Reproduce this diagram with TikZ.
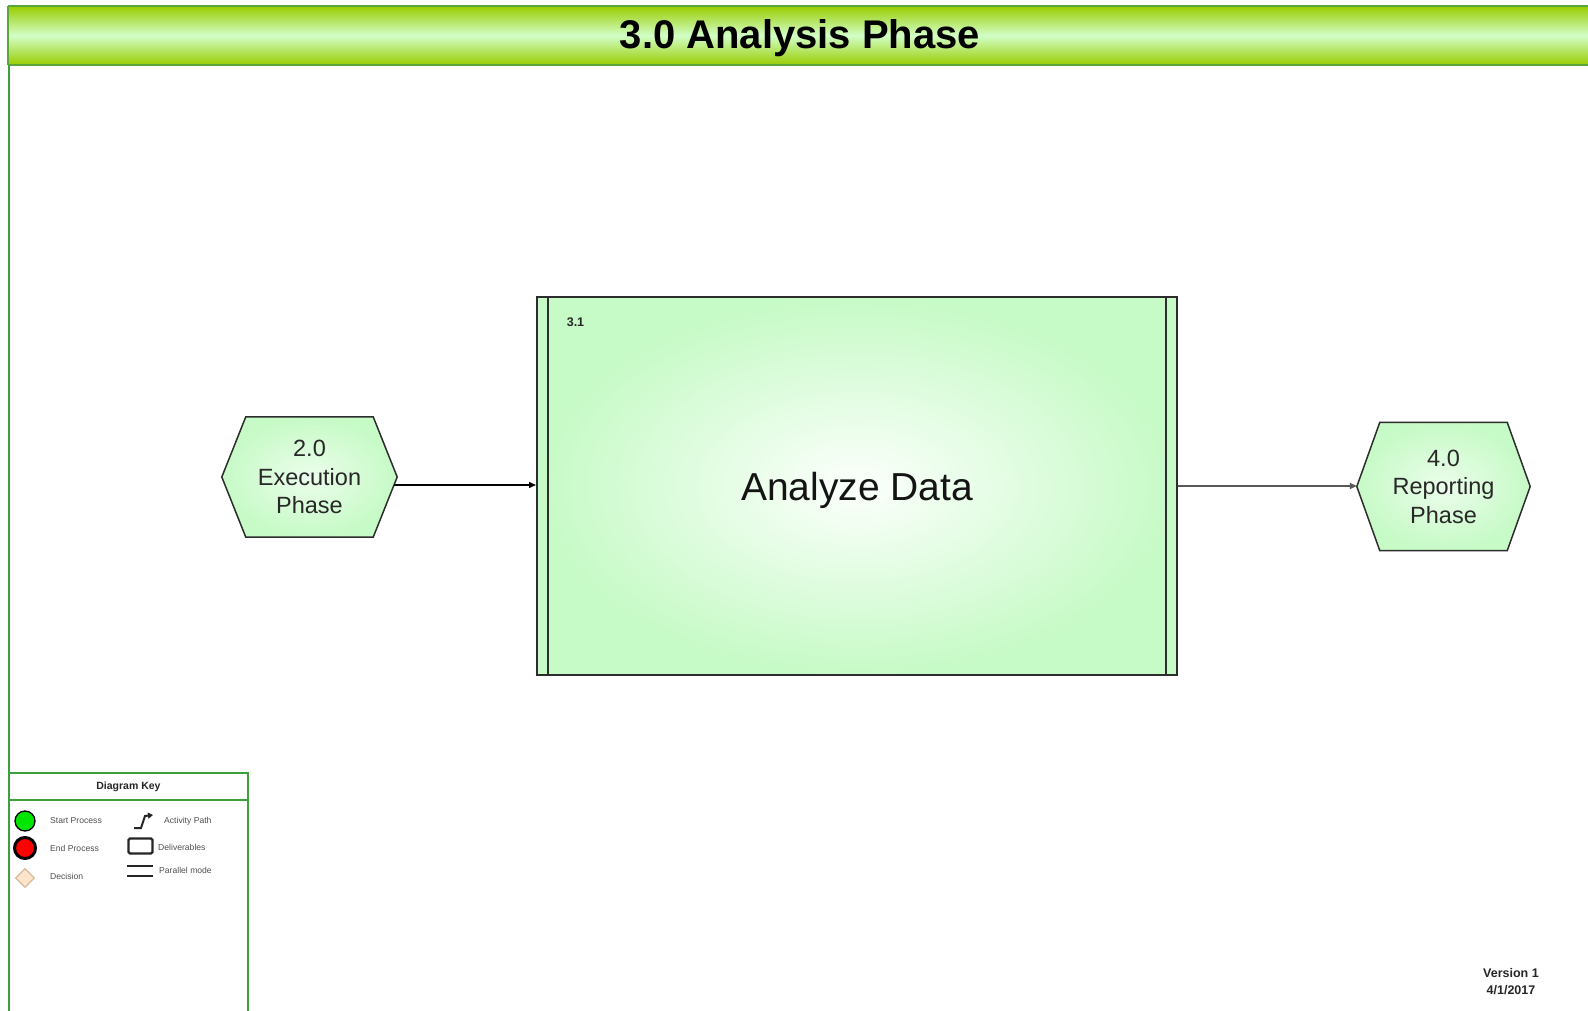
\documentclass[tikz,border=0pt]{standalone}
\usepackage{fontspec}
\setmainfont{Liberation Sans}
\usetikzlibrary{arrows.meta,backgrounds,calc,shapes.geometric}
\definecolor{hdrgreen}{RGB}{153,204,0}
\definecolor{hdrlight}{RGB}{210,255,200}
\definecolor{hdredge}{RGB}{90,165,60}
\definecolor{framegreen}{RGB}{60,160,60}
\definecolor{procgreen}{RGB}{198,250,198}
\definecolor{procwhite}{RGB}{252,255,252}
\definecolor{edgegrey}{RGB}{45,45,45}
\definecolor{hextext}{RGB}{40,40,40}
\definecolor{keytext}{RGB}{80,80,80}
\definecolor{decfill}{RGB}{255,228,204}
\definecolor{decedge}{RGB}{215,185,155}
\definecolor{startgreen}{RGB}{0,230,0}
\tikzset{
  hexnode/.style={minimum width=175pt, minimum height=120pt, inner sep=0pt, align=center,
    text=hextext, font=\fontsize{23.5}{28.5}\selectfont},
  hexshape/.style={draw=edgegrey, line width=1.5pt, inner color=procwhite!70!procgreen, outer color=procgreen},
  procbox/.style={draw=edgegrey, line width=2pt, minimum width=640pt, minimum height=378pt,
    inner color=procwhite, outer color=procgreen, shade, text=black!92, text depth=0pt,
    font=\fontsize{39}{46}\selectfont},
  arr/.style={draw=black, line width=1.3pt, -{Triangle[length=7pt,width=6pt]}},
  arrgrey/.style={draw=black!65, line width=2.6pt, -{Triangle[length=7pt,width=6pt]}},
  keylabel/.style={anchor=west, inner sep=0pt, text=keytext, font=\fontsize{8.6}{10}\selectfont},
  keyhead/.style={inner sep=0pt, text=black!85, font=\bfseries\fontsize{10.5}{12}\selectfont},
  framed/.style={draw=framegreen, line width=2pt},
}
\begin{document}
\begin{tikzpicture}[x=1pt,y=-1pt]
\useasboundingbox (0,0) rectangle (1588,1011);
\begin{scope}[on background layer]
\fill[white] (0,0) rectangle (1588,1011);
\end{scope}

% header band
\shade[top color=hdrgreen, bottom color=hdrgreen, middle color=hdrlight] (8,6) rectangle (1600,65);
\draw[hdredge, line width=1.6pt] (8,6) -- (1600,6);
\draw[hdredge, line width=1.6pt] (8,65) -- (1600,65);
\draw[hdredge, line width=1.2pt] (8,6) -- (8,65);
\node[font=\bfseries\fontsize{40}{46}\selectfont, text=black] (title) at (800,38.5) {3.0 Analysis Phase};

% left frame line
\draw[framed] (9,65) -- (9,1015);

% main process box
\node[procbox] (box) at (857,486) {Analyze Data};
\draw[edgegrey, line width=1.5pt] ([xshift=12pt]box.north west) -- ([xshift=12pt]box.south west);
\draw[edgegrey, line width=1.5pt] ([xshift=-12pt]box.north east) -- ([xshift=-12pt]box.south east);
\node[font=\bfseries\fontsize{12.5}{15}\selectfont, text=black!85] (num) at (575.5,322) {3.1};

% hexagons
\node[hexnode] (exe) at (309.5,477) {2.0\\Execution\\Phase};
\node[hexnode, minimum width=173pt, minimum height=128pt] (rep) at (1443.5,486.5) {4.0\\Reporting\\Phase};
\begin{scope}[on background layer]
\shadedraw[hexshape] (exe.west) -- ([xshift=24pt]exe.north west) -- ([xshift=-24pt]exe.north east)
  -- (exe.east) -- ([xshift=-24pt]exe.south east) -- ([xshift=24pt]exe.south west) -- cycle;
\shadedraw[hexshape] (rep.west) -- ([xshift=23pt]rep.north west) -- ([xshift=-23pt]rep.north east)
  -- (rep.east) -- ([xshift=-23pt]rep.south east) -- ([xshift=23pt]rep.south west) -- cycle;
\end{scope}

% connectors
\draw[arr] ($(exe.east |- box.west)+(-3,-1)$) -- ($(box.west)+(0,-1)$);
\draw[arrgrey] (box.east) -- (box.east -| rep.west);

% diagram key
\draw[framed] (9,773) rectangle (248,1020);
\draw[framed] (9,800) -- (248,800);
\node[keyhead] (keytitle) at (128.5,786.5) {Diagram Key};

\node[circle, draw=black, line width=1.3pt, fill=startgreen, minimum size=20pt, inner sep=0pt] (kstart) at (25,821) {};
\node[circle, draw=black, line width=3pt, fill=red, minimum size=21pt, inner sep=0pt] (kend) at (25,848) {};
\node[diamond, draw=decedge, line width=1.2pt, fill=decfill, minimum size=19pt, inner sep=0pt, shape aspect=1] (kdec) at (25,878) {};
\node[keylabel] (lstart) at (50,821) {Start Process};
\node[keylabel] (lend) at (50,848) {End Process};
\node[keylabel] (ldec) at (50,876) {Decision};

\coordinate (ap1) at (134,828);
\coordinate (ap2) at (141,828);
\coordinate (ap3) at (145,816);
\coordinate (ap4) at (153,815);
\draw[black!85, line width=2pt, -{Triangle[length=5pt,width=6pt]}] (ap1) -- (ap2) -- (ap3) -- (ap4);
\node[keylabel] (lact) at (164,821) {Activity Path};

\node[draw=black!85, line width=2.2pt, rounded corners=1.5pt, minimum width=24pt, minimum height=15pt, inner sep=0pt] (kdel) at (140.5,846) {};
\node[keylabel] (ldel) at (158,847) {Deliverables};

\coordinate (pl1) at (127,866);
\coordinate (pl2) at (153,866);
\coordinate (pl3) at (127,876);
\coordinate (pl4) at (153,876);
\draw[black!85, line width=2pt] (pl1) -- (pl2);
\draw[black!85, line width=2pt] (pl3) -- (pl4);
\node[keylabel] (lpar) at (159,870) {Parallel mode};

% version
\node[font=\bfseries\fontsize{12.5}{16.5}\selectfont, text=black!85, align=center, inner sep=0pt] (ver) at (1511,981.5) {Version 1\\4/1/2017};
\end{tikzpicture}
\end{document}
